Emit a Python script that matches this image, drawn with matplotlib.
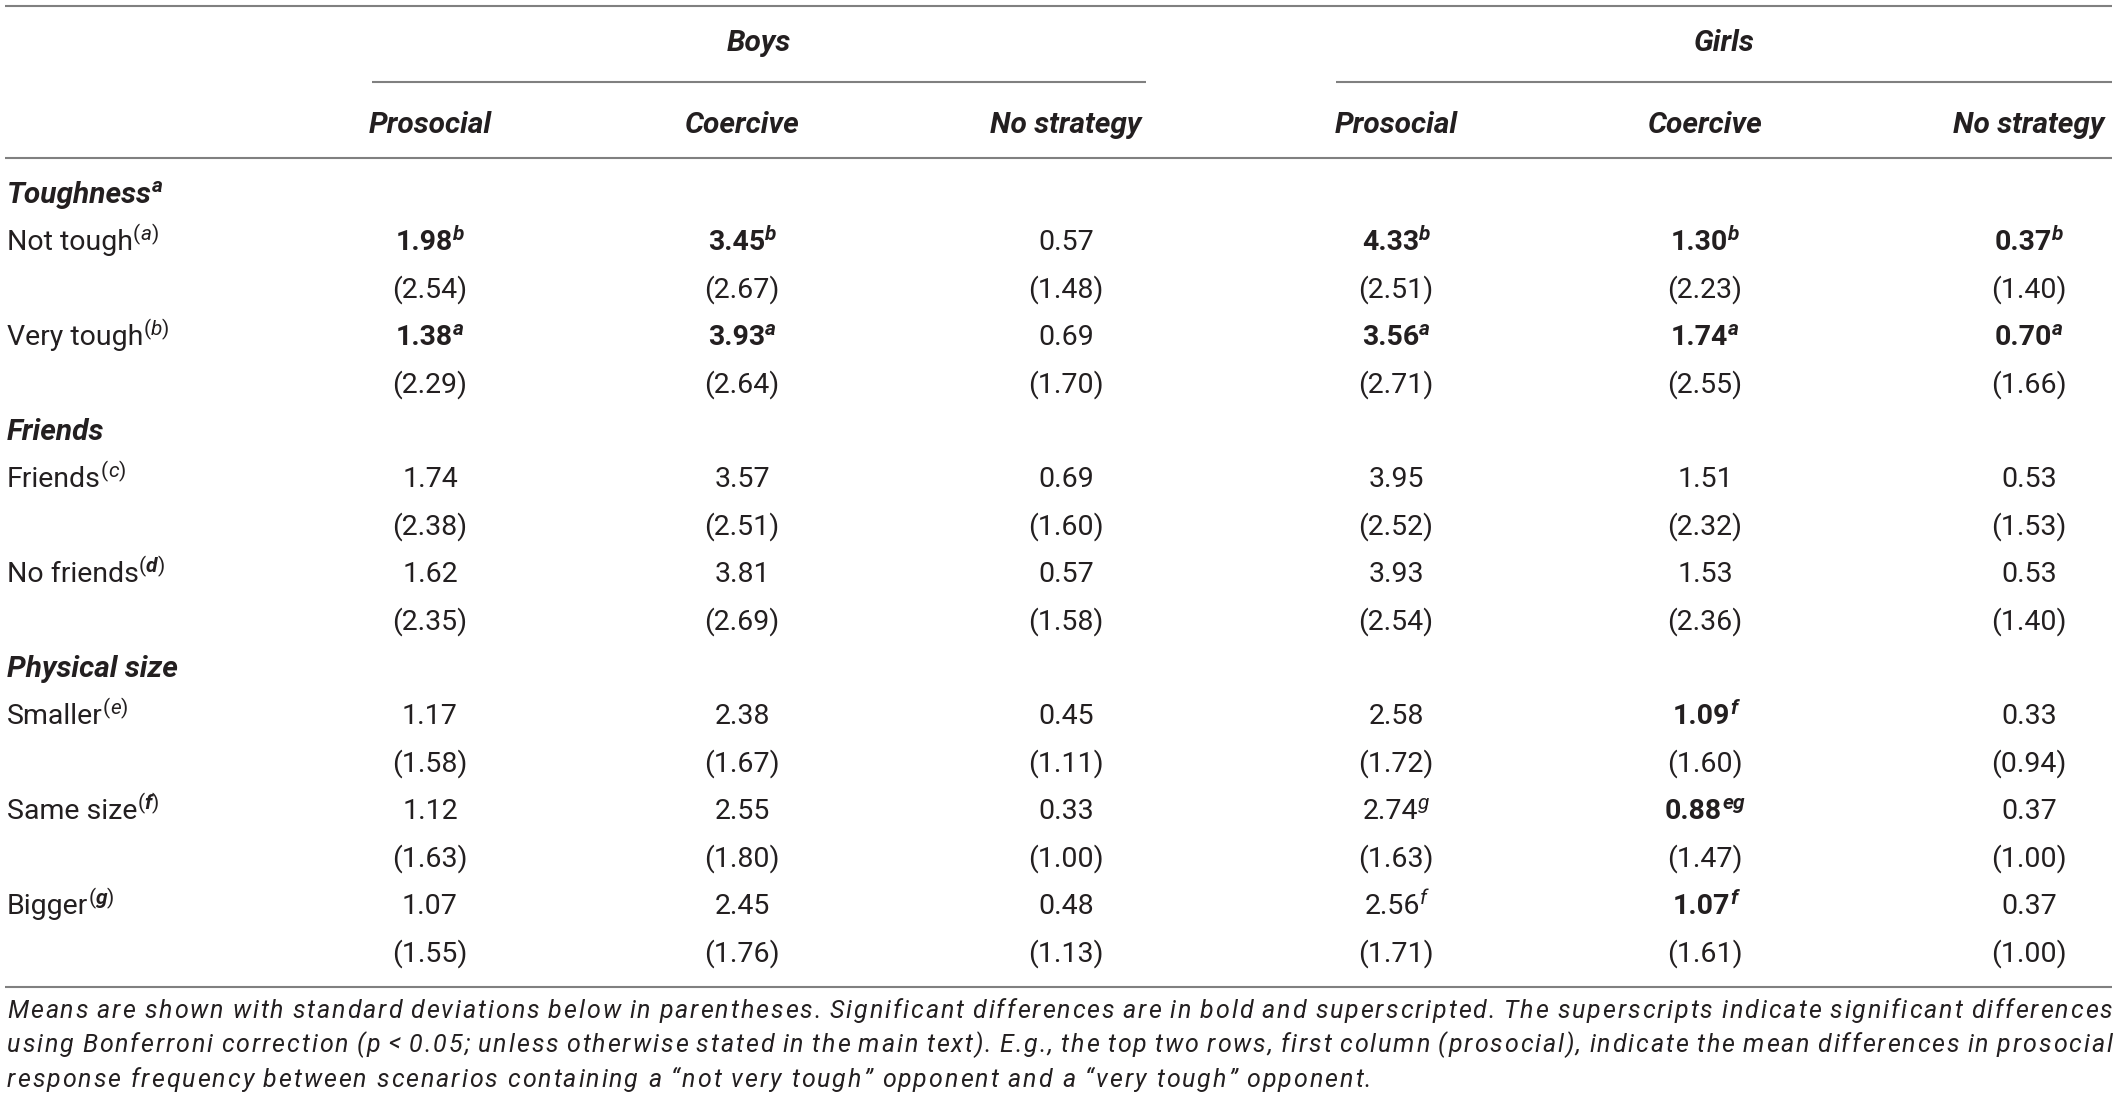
import matplotlib
matplotlib.use("Agg")
import matplotlib.pyplot as plt
from matplotlib import ft2font
from matplotlib.font_manager import FontProperties, findfont

# ---- table content -------------------------------------------------------
groups = ["Boys", "Girls"]
strategies = ["Prosocial", "Coercive", "No strategy"]

sections = ["Toughness", "Friends", "Physical size"]
section_sups = ["a", "", ""]
section_sizes = [2, 2, 3]

conditions = ["Not tough", "Very tough", "Friends", "No friends",
              "Smaller", "Same size", "Bigger"]
condition_sups = ["a", "b", "c", "d", "e", "f", "g"]
# in the source some of the row letters are set in bold
condition_sup_bold = [False, False, False, True, False, True, True]

# columns: boys prosocial, coercive, no strategy, girls prosocial, coercive, no strategy
means = [
    [1.98, 3.45, 0.57, 4.33, 1.30, 0.37],
    [1.38, 3.93, 0.69, 3.56, 1.74, 0.70],
    [1.74, 3.57, 0.69, 3.95, 1.51, 0.53],
    [1.62, 3.81, 0.57, 3.93, 1.53, 0.53],
    [1.17, 2.38, 0.45, 2.58, 1.09, 0.33],
    [1.12, 2.55, 0.33, 2.74, 0.88, 0.37],
    [1.07, 2.45, 0.48, 2.56, 1.07, 0.37],
]
sds = [
    [2.54, 2.67, 1.48, 2.51, 2.23, 1.40],
    [2.29, 2.64, 1.70, 2.71, 2.55, 1.66],
    [2.38, 2.51, 1.60, 2.52, 2.32, 1.53],
    [2.35, 2.69, 1.58, 2.54, 2.36, 1.40],
    [1.58, 1.67, 1.11, 1.72, 1.60, 0.94],
    [1.63, 1.80, 1.00, 1.63, 1.47, 1.00],
    [1.55, 1.76, 1.13, 1.71, 1.61, 1.00],
]
mean_sups = [
    ["b", "b", "", "b", "b", "b"],
    ["a", "a", "", "a", "a", "a"],
    ["", "", "", "", "", ""],
    ["", "", "", "", "", ""],
    ["", "", "", "", "f", ""],
    ["", "", "", "g", "eg", ""],
    ["", "", "", "f", "f", ""],
]
mean_bold = [
    [1, 1, 0, 1, 1, 1],
    [1, 1, 0, 1, 1, 1],
    [0, 0, 0, 0, 0, 0],
    [0, 0, 0, 0, 0, 0],
    [0, 0, 0, 0, 1, 0],
    [0, 0, 0, 0, 1, 0],
    [0, 0, 0, 0, 1, 0],
]

note_lines = [
    "Means are shown with standard deviations below in parentheses. "
    "Significant differences are in bold and superscripted. "
    "The superscripts indicate significant differences",
    "using Bonferroni correction (p < 0.05; unless otherwise stated in the "
    "main text). E.g., the top two rows, first column (prosocial), indicate "
    "the mean differences in prosocial",
    "response frequency between scenarios containing a \u201cnot very tough\u201d "
    "opponent and a \u201cvery tough\u201d opponent.",
]

# ---- layout ---------------------------------------------------------------
W, H = 2118, 1110
INK = "#231f20"
RULE = "#808080"
FS = 20.5        # body size (pt)
HFS = 21.5       # bold italic headings
SUP = 15         # superscript size
RISE = 10        # superscript raise (px)
BODY_W = "normal"
NOTE_FS = 18
LEFT, RIGHT = 5, 2112
NOTE_X = 7
NOTE_END3 = 1371   # where the short last line of the note stops
col_x = [430, 742, 1066, 1396, 1705, 2029]
group_span = [(372, 1146), (1336, 2112)]
row_y0, row_step = 193, 47.4
note_base = [1018, 1052, 1087]

plt.rcParams["font.family"] = ["Roboto", "DejaVu Sans"]

fig = plt.figure(figsize=(W / 100, H / 100), dpi=100)
ax = fig.add_axes([0, 0, 1, 1])
ax.set_xlim(0, W)
ax.set_ylim(H, 0)
ax.axis("off")
renderer = fig.canvas.get_renderer()


def write(x, y, parts, ha="left"):
    '''Put a run of text pieces on one baseline. parts holds
    (text, size, weight, style, rise) tuples.'''
    arts = []
    for txt, size, weight, style, rise in parts:
        t = ax.text(0, y - rise, txt, fontsize=size, fontweight=weight,
                    fontstyle=style, color=INK, va="baseline", ha="left")
        arts.append(t)
    widths = [t.get_window_extent(renderer).width for t in arts]
    total = sum(widths)
    if ha == "center":
        x0 = x - total / 2
    elif ha == "right":
        x0 = x - total
    else:
        x0 = x
    for t, w in zip(arts, widths):
        t.set_x(x0)
        x0 += w


def base(yc):
    # centre of the capitals -> baseline
    return yc + 10


# rules
for y in [6, 158, 987]:
    ax.plot([LEFT, RIGHT], [y, y], color=RULE, lw=1.5, solid_capstyle="butt")
for (x0, x1) in group_span:
    ax.plot([x0, x1], [82, 82], color=RULE, lw=1.5, solid_capstyle="butt")

# header
for g, (x0, x1) in zip(groups, group_span):
    write((x0 + x1) / 2, base(41), [(g, HFS, "bold", "italic", 0)],
          ha="center")
for i, x in enumerate(col_x):
    write(x, base(123), [(strategies[i % 3], HFS, "bold", "italic", 0)],
          ha="center")

# body
k = 0
c = 0
for sec, ssup, n in zip(sections, section_sups, section_sizes):
    y = base(row_y0 + k * row_step)
    parts = [(sec, HFS, "bold", "italic", 0)]
    if ssup:
        parts.append((ssup, SUP, "bold", "italic", RISE + 1))
    write(7, y, parts)
    k += 1
    for _ in range(n):
        y = base(row_y0 + k * row_step)
        ysd = base(row_y0 + (k + 1) * row_step)
        letter_w = "bold" if condition_sup_bold[c] else BODY_W
        write(7, y, [(conditions[c], FS, BODY_W, "normal", 0),
                     ("(", SUP, BODY_W, "normal", RISE),
                     (condition_sups[c], SUP, letter_w, "italic", RISE),
                     (")", SUP, BODY_W, "normal", RISE)])
        for j, x in enumerate(col_x):
            w = "bold" if mean_bold[c][j] else BODY_W
            parts = [("{:.2f}".format(means[c][j]), FS, w, "normal", 0)]
            if mean_sups[c][j]:
                parts.append((mean_sups[c][j], SUP, w, "italic", RISE))
            write(x, y, parts, ha="center")
            write(x, ysd, [("({:.2f})".format(sds[c][j]), FS, BODY_W,
                            "normal", 0)], ha="center")
        c += 1
        k += 2

# ---- footnote: the source sets it wide and justified, so the letters are
# placed one by one with a little tracking
note_prop = FontProperties(family=["Roboto", "DejaVu Sans"], style="italic",
                           weight=BODY_W, size=NOTE_FS)
face = ft2font.FT2Font(findfont(note_prop))
face.set_size(NOTE_FS, 100)
try:
    NOHINT = ft2font.LoadFlags.NO_HINTING
except AttributeError:
    NOHINT = ft2font.LOAD_NO_HINTING


def advance(ch):
    return face.load_char(ord(ch), flags=NOHINT).linearHoriAdvance / 65536


last = note_lines[-1]
track = (NOTE_END3 - NOTE_X - sum(advance(ch) for ch in last)) / (len(last) - 1)
space = advance(" ") + track

for i, line in enumerate(note_lines):
    words = line.split(" ")
    wlens = [sum(advance(ch) for ch in wd) + track * (len(wd) - 1)
             for wd in words]
    if i < len(note_lines) - 1:
        gap = (RIGHT - NOTE_X - sum(wlens)) / (len(words) - 1)
    else:
        gap = space + track
    x = NOTE_X
    for wd, wl in zip(words, wlens):
        cx = x
        for ch in wd:
            ax.text(cx, note_base[i], ch, fontproperties=note_prop,
                    color=INK, va="baseline", ha="left")
            cx += advance(ch) + track
        x += wl + gap

fig.savefig("out.png", dpi=100, facecolor="white")
